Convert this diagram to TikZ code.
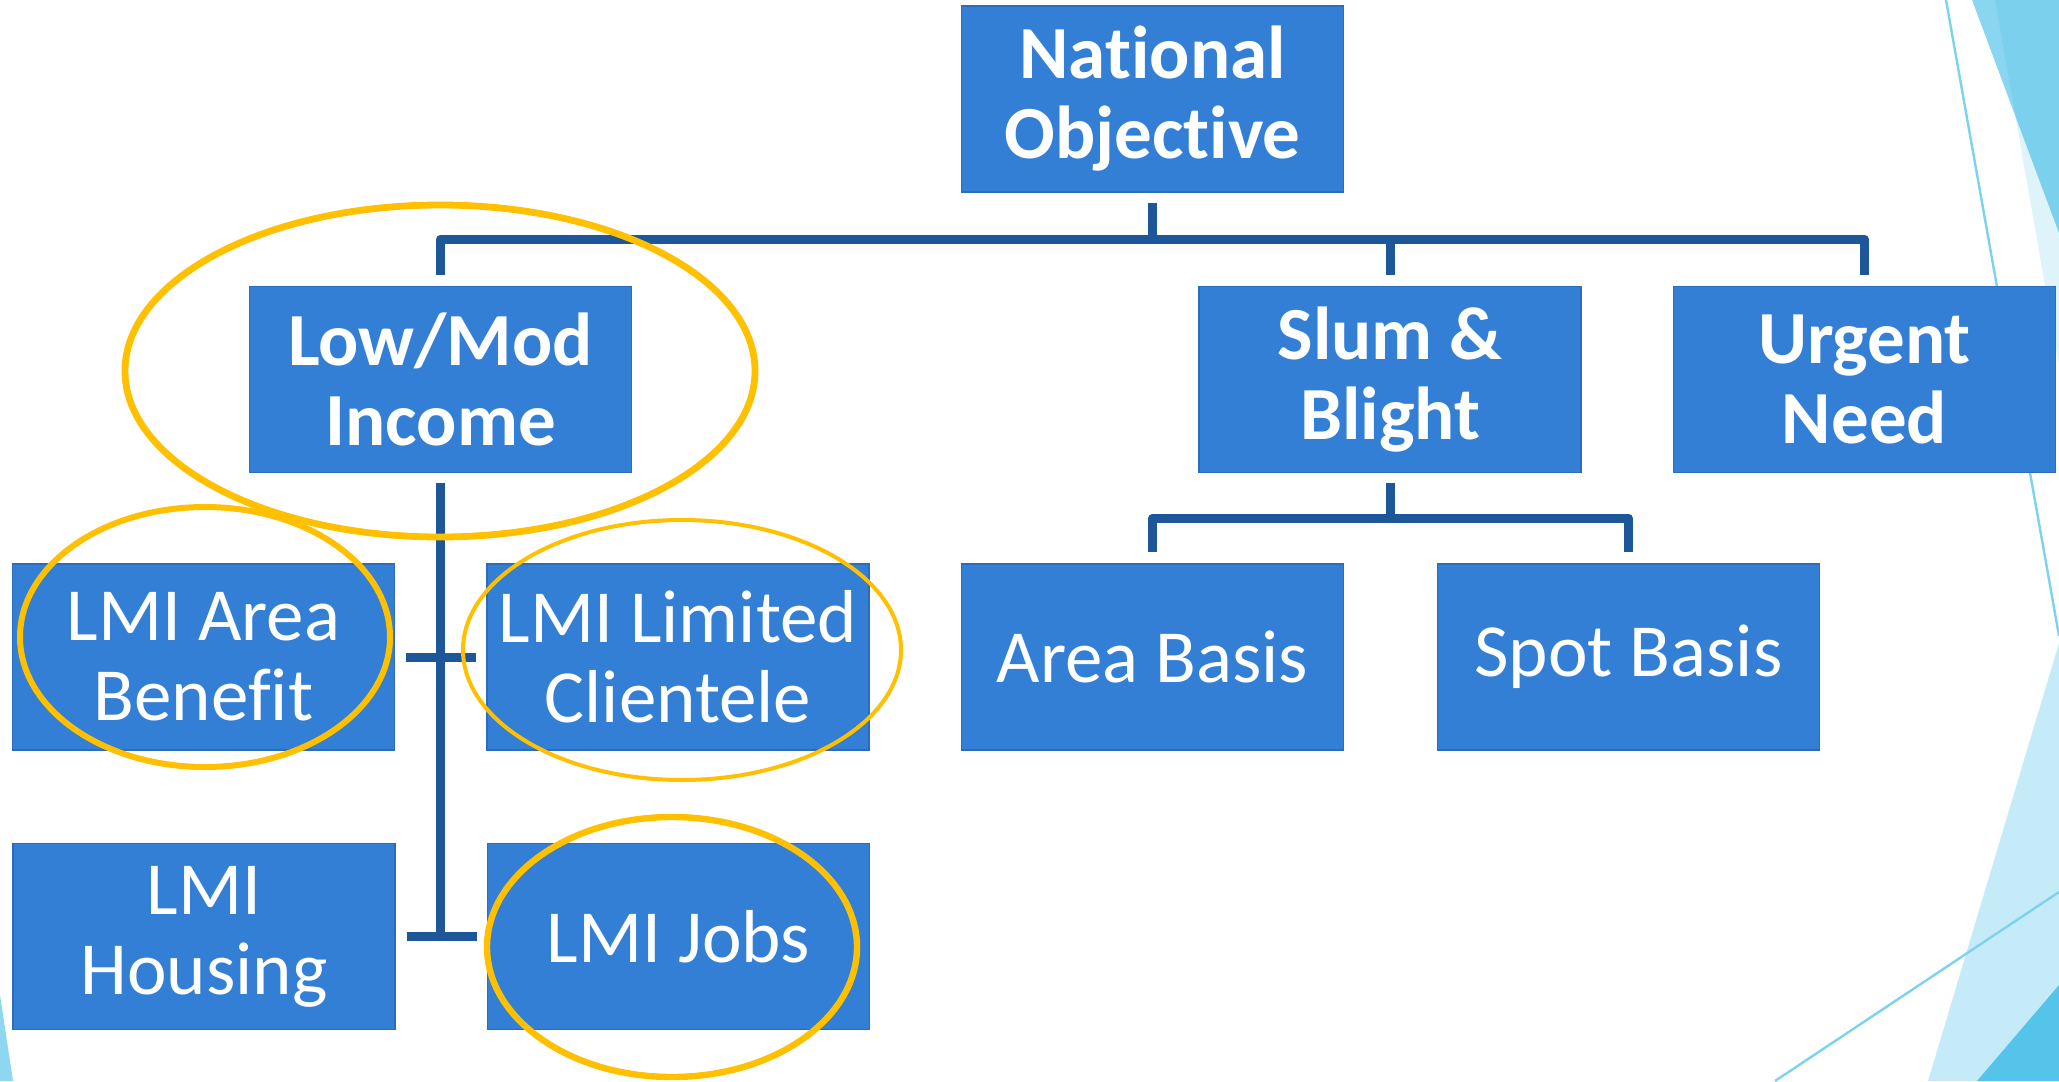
\documentclass[tikz,border=0pt]{standalone}
\usepackage{fontspec}
\setmainfont{Carlito}[Ligatures=NoCommon]
\usetikzlibrary{shapes.geometric}
\definecolor{boxblue}{RGB}{52,127,214}
\definecolor{boxedge}{RGB}{44,108,188}
\definecolor{connblue}{RGB}{30,86,154}
\definecolor{hlgold}{RGB}{255,192,0}
\definecolor{decolight}{RGB}{223,243,250}
\definecolor{decocyan}{RGB}{34,178,227}
\definecolor{decoline}{RGB}{125,210,238}
\definecolor{decopale}{RGB}{197,235,248}
\definecolor{decodark}{RGB}{85,196,234}
\definecolor{decoleft}{RGB}{141,216,240}
\tikzset{
  box/.style={rectangle, fill=boxblue, draw=boxedge, line width=0.6pt,
    minimum width=191pt, minimum height=93pt, inner sep=0pt, text=white,
    align=center, font=\fontsize{37.5}{40}\selectfont},
  boldbox/.style={box, font=\bfseries\fontsize{37.5}{40}\selectfont},
  conn/.style={draw=connblue, line width=4.5pt, line join=round},
  hl/.style={ellipse, draw=hlgold, inner sep=0pt, fill=none}
}
\begin{document}
\begin{tikzpicture}[x=0.5pt,y=-0.5pt]
\useasboundingbox (0,0) rectangle (2059,1081);
\fill[white] (0,0) rectangle (2059,1081);
% background decorations
\fill[decolight] (1995,0) -- (2059,0) -- (2059,365) -- cycle;
\fill[decocyan, opacity=0.53] (1972,0) -- (2059,0) -- (2059,233) -- cycle;
\draw[decoline, line width=1.2pt] (1946,0) -- (2059,636);
\fill[decopale] (2059,643) -- (2059,1081) -- (1928,1081) -- cycle;
\fill[decodark] (1977,1081) -- (2059,1081) -- (2059,985) -- cycle;
\draw[decoline, line width=1.2pt] (1775,1081) -- (2059,892);
\fill[decoleft] (0,995) -- (13,1081) -- (0,1081) -- cycle;

% boxes
\node[boldbox] (no) at (1152.5,99) {National\\Objective};
\node[boldbox] (lowmod) at (440.5,379.5) {Low/Mod\\Income};
\node[boldbox] (slum) at (1390,379.5) {Slum \&\\Blight};
\node[boldbox] (urgent) at (1864.5,379.5) {Urgent\\Need};
\node[box] (ab) at (203.5,657) {LMI Area\\Benefit};
\node[box] (lc) at (678,657) {LMI Limited\\Clientele};
\node[box] (area) at (1152.5,657) {Area Basis};
\node[box] (spot) at (1628.5,657) {Spot Basis};
\node[box] (housing) at (204,936.5) {LMI\\Housing};
\node[box] (jobs) at (678.5,936.5) {LMI Jobs};

% connectors
\coordinate (bus) at (0,239);
\coordinate (bus2) at (0,518);
\draw[conn] ([yshift=5.5pt]lowmod.north) -- (lowmod.north |- bus) -- (urgent.north |- bus) -- ([yshift=5.5pt]urgent.north);
\draw[conn] ([yshift=-5pt]no.south) -- (no.south |- bus);
\draw[conn] ([yshift=5.5pt]slum.north) -- (slum.north |- bus);
\draw[conn] ([yshift=-5pt]slum.south) -- (slum.south |- bus2);
\draw[conn] ([yshift=5.5pt]area.north) -- (area.north |- bus2) -- (spot.north |- bus2) -- ([yshift=5.5pt]spot.north);
\draw[conn] ([yshift=-5pt]lowmod.south) -- (lowmod.south |- jobs.west);
\draw[conn] ([xshift=5.5pt]ab.east) -- ([xshift=-5pt]lc.west);
\draw[conn] ([xshift=5.5pt]housing.east) -- ([xshift=-5pt]jobs.west);

% highlight ellipses
\node[hl, line width=3.4pt, minimum width=315pt, minimum height=166pt] (hlLowMod) at (440,371) {};
\node[hl, line width=3pt, minimum width=185pt, minimum height=130pt] (hlAB) at (205,637) {};
\node[hl, line width=2pt, minimum width=219pt, minimum height=130pt] (hlLC) at (682,650) {};
\node[hl, line width=3.2pt, minimum width=185pt, minimum height=130pt] (hlJobs) at (672,947) {};
\end{tikzpicture}
\end{document}
